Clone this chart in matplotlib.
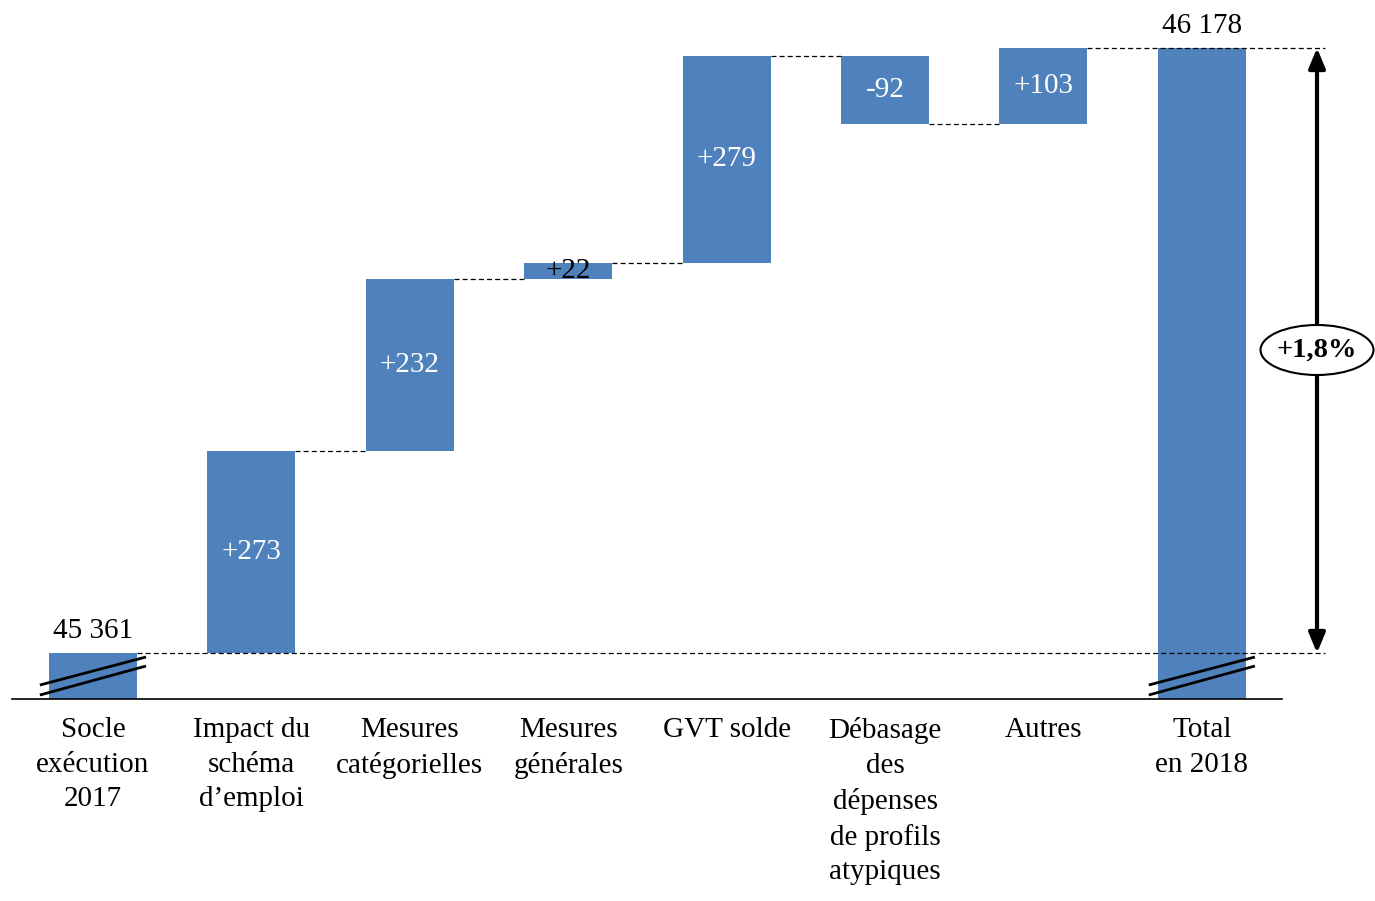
import matplotlib
matplotlib.use("Agg")
import matplotlib.pyplot as plt
from matplotlib.patches import Ellipse

categories = ["Socle\nexécution\n2017", "Impact du\nschéma\nd’emploi", "Mesures\ncatégorielles",
              "Mesures\ngénérales", "GVT solde", "Débasage\ndes\ndépenses\nde profils\natypiques",
              "Autres", "Total\nen 2018"]
values = [45361, 273, 232, 22, 279, -92, 103, 46178]
value_labels = ["45 361", "+273", "+232", "+22", "+279", "-92", "+103", "46 178"]
growth_label = "+1,8%"

BLUE = "#4F81BD"
FONT = "Liberation Serif"
plt.rcParams['font.family'] = [FONT, 'DejaVu Serif']

fig = plt.figure(figsize=(13.75, 9.01), dpi=100)
ax = fig.add_axes([12/1375, (901-699)/901, (1282-12)/1375, (699-10)/901])

ymin, ymax = 45298.9, 46229.3
ax.set_ylim(ymin, ymax)
ax.set_xlim(-0.511, 7.506)
w = 0.555
n = len(values)

cum = values[0]
levels = []
for i, v in enumerate(values):
    if i == 0 or i == n - 1:
        ax.bar(i, v - ymin, bottom=ymin, width=w, color=BLUE, zorder=2)
        levels.append(v)
    else:
        bottom = cum if v > 0 else cum + v
        ax.bar(i, abs(v), bottom=bottom, width=w, color=BLUE, zorder=2)
        cum += v
        levels.append(cum)

dash = (0, (4, 2.5))
for i in range(1, n - 2):
    ax.plot([i + w/2, i + 1 - w/2], [levels[i], levels[i]], color="black", lw=0.9,
            linestyle=dash, zorder=3)
arrow_x = 7.727
ax.plot([w/2, arrow_x + 0.05], [values[0], values[0]], color="black", lw=0.9,
        linestyle=dash, zorder=3, clip_on=False)
ax.plot([n - 2 + w/2, arrow_x + 0.05], [values[-1], values[-1]], color="black", lw=0.9,
        linestyle=dash, zorder=3, clip_on=False)

fs = 21
for i, v in enumerate(values):
    if i == 0 or i == n - 1:
        ax.text(i, v + 12, value_labels[i], ha="center", va="bottom", fontsize=fs, color="black")
    else:
        mid = (levels[i - 1] + levels[i]) / 2
        col = "black" if abs(v) < 50 else "white"
        ax.text(i, mid, value_labels[i], ha="center", va="center", fontsize=fs, color=col, zorder=4)

px = 1 / 0.74051
def py(p):
    return 45361 + (653 - p) * px
for xc in (0, n - 1):
    for (y1, y2) in ((685, 657), (695, 666)):
        ax.plot([xc - 0.335, xc + 0.335], [py(y1), py(y2)], color="black", lw=2,
                zorder=5, clip_on=False, solid_capstyle="butt")

ax.annotate("", xy=(arrow_x, values[-1]), xytext=(arrow_x, values[0]),
            arrowprops=dict(arrowstyle="<|-|>,head_length=1.2,head_width=0.5", lw=3,
                            color="black", shrinkA=0, shrinkB=0),
            annotation_clip=False, zorder=5)
ecy = py(350)
ell = Ellipse((arrow_x, ecy), 0.713, 50 * px, facecolor="white", edgecolor="black",
              lw=1.5, zorder=6, clip_on=False)
ax.add_patch(ell)
ax.text(arrow_x, ecy, growth_label, ha="center", va="center", fontsize=20.5,
        fontweight="bold", zorder=7)

ax.set_xticks(range(n))
ax.set_xticklabels(categories, fontsize=fs, linespacing=1.43)
ax.tick_params(axis="x", length=0, pad=13)
ax.set_yticks([])
for s in ("top", "left", "right"):
    ax.spines[s].set_visible(False)
ax.spines["bottom"].set_linewidth(1.2)

fig.savefig("out.png", dpi=100)
